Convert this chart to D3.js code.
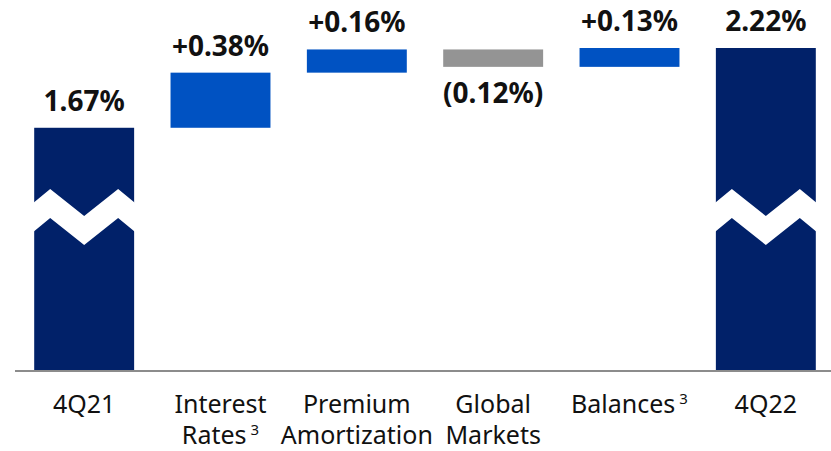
<!DOCTYPE html>
<html>
<head>
<meta charset="utf-8">
<script src="https://cdn.jsdelivr.net/npm/d3@7"></script>
<style>
  body { margin: 0; background: #fff; }
  svg { display: block; font-family: "Noto Sans", "Open Sans", sans-serif; }
</style>
</head>
<body>
<div id="chart"></div>
<script>
// waterfall data
const categories = ["4Q21", "Interest Rates", "Premium Amortization", "Global Markets", "Balances", "4Q22"];
const labelLines = [["4Q21"], ["Interest", "Rates"], ["Premium", "Amortization"], ["Global", "Markets"], ["Balances"], ["4Q22"]];
const footnotes = ["", "3", "", "", "3", ""];
const values = [1.67, 0.38, 0.16, -0.12, 0.13, 2.22];
const kinds = ["total", "delta", "delta", "delta", "delta", "total"];
const valueLabels = ["1.67%", "+0.38%", "+0.16%", "(0.12%)", "+0.13%", "2.22%"];

const width = 831, height = 451;
const baseY = 370;

const svg = d3.select("#chart").append("svg")
  .attr("width", width)
  .attr("height", height);

const x = d3.scaleBand()
  .domain(categories)
  .range([16, 834])
  .paddingInner(0.267)
  .paddingOuter(0.1335);

const y = d3.scaleLinear()
  .domain([0, 2.22])
  .range([baseY, 48]);

// build the running totals
let run = 0;
const bars = categories.map(function(c, i) {
  let lo, hi;
  if (kinds[i] == "total") {
    lo = 0; hi = values[i]; run = values[i];
  } else {
    const start = run;
    run = run + values[i];
    lo = Math.min(start, run); hi = Math.max(start, run);
  }
  return {cat: c, lo: lo, hi: hi, v: values[i], kind: kinds[i], label: valueLabels[i], i: i};
});

function barColor(d) {
  if (d.kind == "total") return "#012169";
  return d.v < 0 ? "#949494" : "#0052c2";
}

svg.selectAll("rect.bar")
  .data(bars)
  .enter()
  .append("rect")
  .attr("class", "bar")
  .attr("x", d => x(d.cat))
  .attr("y", d => y(d.hi))
  .attr("width", x.bandwidth())
  .attr("height", d => y(d.lo) - y(d.hi))
  .style("fill", barColor);

// zigzag break on the total bars
const breakY = y(1.0);
const zig = [[0, -22], [0.16, -36], [0.5, -9], [0.84, -36], [1, -22]];
const thick = 29;
svg.selectAll("path.break")
  .data(bars.filter(d => d.kind == "total"))
  .enter()
  .append("path")
  .attr("class", "break")
  .attr("d", function(d) {
    const bw = x.bandwidth(), x0 = x(d.cat);
    const top = zig.map(p => [x0 + p[0] * bw + (p[0] == 0 ? -1 : p[0] == 1 ? 1 : 0), breakY + p[1]]);
    const bot = zig.slice().reverse().map(p => [x0 + p[0] * bw + (p[0] == 0 ? -1 : p[0] == 1 ? 1 : 0), breakY + p[1] + thick]);
    return "M" + top.concat(bot).map(p => p.join(",")).join("L") + "Z";
  })
  .style("fill", "#fff");

// axis line
svg.append("line")
  .attr("x1", 15).attr("x2", width)
  .attr("y1", baseY + 1).attr("y2", baseY + 1)
  .style("stroke", "#8c8c8c")
  .style("stroke-width", 2);

// value labels
svg.selectAll("text.val")
  .data(bars)
  .enter()
  .append("text")
  .attr("class", "val")
  .attr("x", d => x(d.cat) + x.bandwidth() / 2)
  .attr("y", d => d.v < 0 ? y(d.lo) + 36 : y(d.hi) - 17)
  .attr("text-anchor", "middle")
  .style("font-size", "28px")
  .style("font-weight", "bold")
  .style("fill", "#111")
  .text(d => d.label);

// category labels
const cat = svg.selectAll("g.cat")
  .data(bars)
  .enter()
  .append("g")
  .attr("class", "cat")
  .attr("transform", d => "translate(" + (x(d.cat) + x.bandwidth() / 2) + ",0)");

cat.each(function(d) {
  const g = d3.select(this);
  const lines = labelLines[d.i];
  lines.forEach(function(l, j) {
    const t = g.append("text")
      .attr("y", 413 + j * 31)
      .attr("text-anchor", "middle")
      .style("font-size", "25px")
      .style("fill", "#111");
    t.append("tspan").text(l);
    if (j == lines.length - 1 && footnotes[d.i]) {
      t.append("tspan")
        .attr("dx", 4)
        .attr("dy", -9)
        .style("font-size", "15px")
        .text(footnotes[d.i]);
    }
  });
});
</script>
</body>
</html>
